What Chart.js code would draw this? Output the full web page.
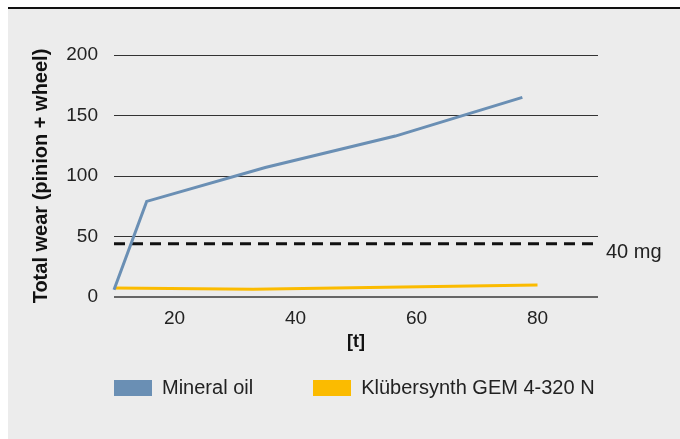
<!DOCTYPE html>
<html>
<head>
<meta charset="utf-8">
<script src="https://cdn.jsdelivr.net/npm/chart.js@4"></script>
<style>
  body { margin: 0; background: #fff; font-family: "Liberation Sans", Arial, sans-serif; }
  #panel {
    position: absolute; left: 8px; top: 7px; width: 672px; height: 430px;
    background: #ececec; border-top: 2px solid #111;
  }
  #wrap { position: absolute; left: 0; top: 0; width: 672px; height: 430px; }
  #legend {
    position: absolute; left: 106px; top: 367px; display: flex; align-items: center;
    font-size: 20px; color: #222;
  }
  .item { display: flex; align-items: center; margin-right: 60px; }
  .box { width: 38px; height: 16px; margin-right: 10px; }
</style>
</head>
<body>
<div id="panel">
  <div id="wrap"><canvas id="chart"></canvas></div>
  <div id="legend"></div>
</div>
<script>
// data
const mineralT = [10, 15.4, 35, 56.5, 77.5];
const mineralWear = [6, 79, 107, 133, 165];
const kluberT = [10, 33, 55, 80];
const kluberWear = [7.5, 6.5, 8, 10];
const xTicks = [20, 40, 60, 80];
const limitValue = 44;
const limitLabel = "40 mg";
const seriesNames = ["Mineral oil", "Klübersynth GEM 4-320 N"];
const seriesColors = ["#6a8fb4", "#fbbb00"];

const FONT = "'Liberation Sans', Arial, sans-serif";

function toPoints(xs, ys) {
    return xs.map((x, i) => ({ x: x, y: ys[i] }));
}

// Label next to the dashed limit line
const limitLabelPlugin = {
    id: "limitLabel",
    afterDatasetsDraw(chart) {
        const { ctx, chartArea, scales } = chart;
        const y = scales.y.getPixelForValue(limitValue);
        ctx.save();
        ctx.font = "20px " + FONT;
        ctx.fillStyle = "#222";
        ctx.textAlign = "left";
        ctx.textBaseline = "middle";
        ctx.fillText(limitLabel, chartArea.right + 8, y + 9);
        ctx.restore();
    }
};

const chart = new Chart(document.getElementById("chart"), {
    type: "line",
    data: {
        datasets: [
            {
                label: seriesNames[0],
                data: toPoints(mineralT, mineralWear),
                borderColor: seriesColors[0],
                backgroundColor: seriesColors[0],
                borderWidth: 3,
                pointRadius: 0,
                tension: 0,
                clip: false
            },
            {
                label: seriesNames[1],
                data: toPoints(kluberT, kluberWear),
                borderColor: seriesColors[1],
                backgroundColor: seriesColors[1],
                borderWidth: 3,
                pointRadius: 0,
                tension: 0,
                clip: false
            },
            {
                label: limitLabel,
                data: [{ x: 10, y: limitValue }, { x: 90, y: limitValue }],
                borderColor: "#111",
                borderWidth: 3,
                borderDash: [11, 7],
                pointRadius: 0,
                clip: false
            }
        ]
    },
    options: {
        responsive: true,
        maintainAspectRatio: false,
        animation: false,
        devicePixelRatio: 1,
        layout: { padding: { left: 0, top: 46, right: 82, bottom: 82 } },
        plugins: {
            legend: { display: false },
            tooltip: { enabled: false }
        },
        scales: {
            x: {
                type: "linear",
                min: 10,
                max: 90,
                afterBuildTicks: s => { s.ticks = xTicks.map(v => ({ value: v })); },
                afterFit: s => { s.height = 60; },
                grid: { display: false, drawTicks: false },
                border: { display: false },
                ticks: { padding: 10, color: "#222", font: { size: 19, family: FONT } },
                title: {
                    display: true,
                    text: "[t]",
                    color: "#111",
                    font: { size: 18, weight: "bold", family: FONT },
                    padding: { top: 0, bottom: 4 }
                }
            },
            y: {
                min: 0,
                max: 200,
                afterFit: s => { s.width = 106; },
                grid: {
                    drawTicks: false,
                    color: ctx => ctx.tick && ctx.tick.value === 0 ? "#666" : "#333",
                    lineWidth: ctx => ctx.tick && ctx.tick.value === 0 ? 2 : 1
                },
                border: { display: false },
                ticks: { stepSize: 50, padding: 16, color: "#222", font: { size: 19, family: FONT } },
                title: {
                    display: true,
                    text: "Total wear (pinion + wheel)",
                    color: "#111",
                    font: { size: 20, weight: "bold", family: FONT },
                    padding: { top: 21, bottom: 0 }
                }
            }
        }
    },
    plugins: [limitLabelPlugin]
});

// HTML legend built from the two series
document.getElementById("legend").innerHTML = chart.data.datasets.slice(0, 2).map(d => `
    <div class="item">
        <span class="box" style="background:${d.borderColor}"></span>
        <span>${d.label}</span>
    </div>
`).join("");
</script>
</body>
</html>
